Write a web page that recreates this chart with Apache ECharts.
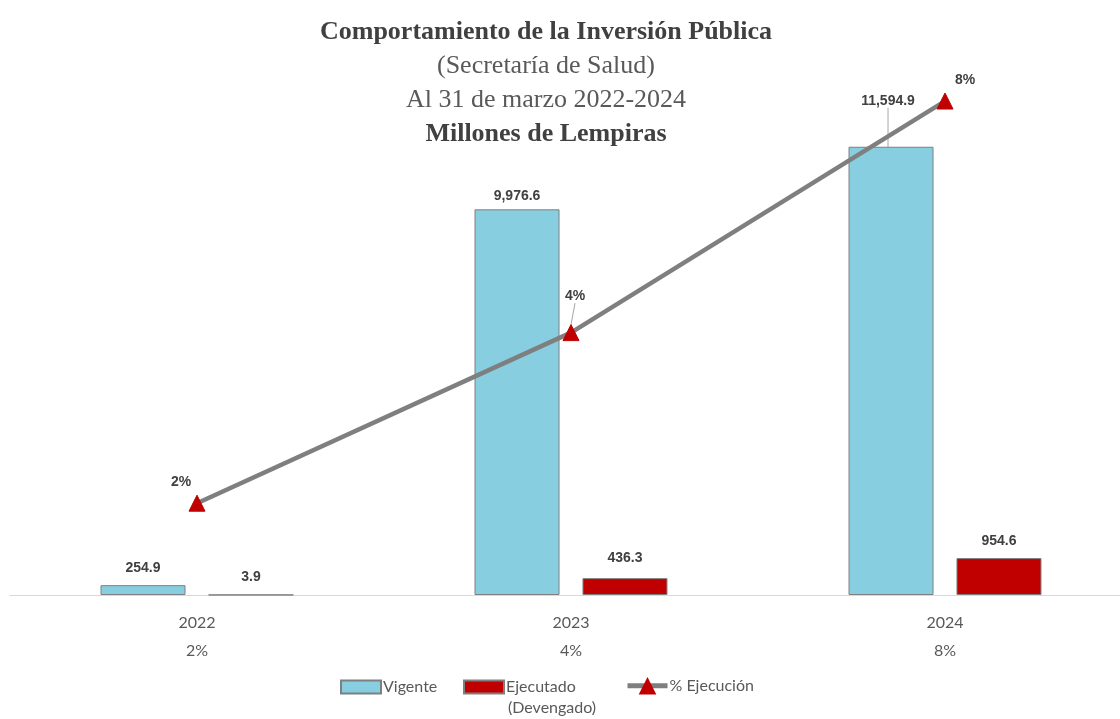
<!DOCTYPE html>
<html>
<head>
    <meta charset="utf-8"/>
    <title>Inversión Pública</title>
    <script src="https://cdn.jsdelivr.net/npm/echarts@6/dist/echarts.min.js"></script>
    <style>
        html, body { margin: 0; padding: 0; background: #fff; overflow: hidden; }
        /* el gráfico original sale recortado por la derecha */
        #chart { width: 1140px; height: 719px; }
    </style>
</head>
<body>
<div id="chart"></div>
<script>
    // datos
    var years = ['2022', '2023', '2024'];
    var vigente = [254.9, 9976.6, 11594.9];
    var ejecutado = [3.9, 436.3, 954.6];
    // % ejecución = ejecutado / vigente
    var pctEjec = [];
    for (var i = 0; i < years.length; i++) {
        pctEjec.push(ejecutado[i] / vigente[i] * 100);
    }

    var fmtNum = function (v) {
        return Number(v).toLocaleString('en-US', {minimumFractionDigits: 1, maximumFractionDigits: 1});
    };
    var fmtPct = function (v) {
        return Math.round(v) + '%';
    };

    var labelStyle = {
        show: true,
        position: 'top',
        distance: 10,
        fontFamily: 'Liberation Sans',
        fontWeight: 'bold',
        fontSize: 14,
        color: '#404040'
    };
    var guide = {show: true, lineStyle: {color: '#a6a6a6', width: 1}};

    // solo algunas etiquetas llevan línea guía
    var vigenteData = vigente.map(function (v, i) {
        return i === 2 ? {value: v, labelLine: guide} : v;
    });
    var pctData = pctEjec.map(function (v, i) {
        return i === 1 ? {value: v, labelLine: guide} : v;
    });

    var legendText = {fontFamily: 'Lato', fontSize: 16, color: '#595959', padding: [0, 0, 0, -3]};

    var myChart = echarts.init(document.getElementById('chart'));
    var option = {
        backgroundColor: '#fff',
        animation: false,
        title: {
            left: 541,
            textAlign: 'center',
            top: 10,
            text: '{b|Comportamiento de la Inversión Pública}\n{r|(Secretaría de Salud)}\n{r|Al 31 de marzo 2022-2024}\n{b|Millones de Lempiras}',
            textStyle: {
                fontWeight: 'normal',
                rich: {
                    b: {fontFamily: 'Liberation Serif', fontWeight: 'bold', fontSize: 26, color: '#404040', lineHeight: 34},
                    r: {fontFamily: 'Liberation Serif', fontWeight: 'normal', fontSize: 26, color: '#595959', lineHeight: 34}
                }
            }
        },
        grid: {left: 10, width: 1122, top: 60, bottom: 124, containLabel: false},
        xAxis: {
            type: 'category',
            data: years,
            axisTick: {show: false},
            axisLine: {lineStyle: {color: '#d9d9d9', width: 1}},
            axisLabel: {
                margin: 14,
                fontFamily: 'Lato',
                fontSize: 16,
                lineHeight: 28,
                color: '#595959',
                formatter: function (v, idx) {
                    return v + '\n' + fmtPct(pctEjec[idx]);
                }
            }
        },
        yAxis: [
            {type: 'value', min: 0, max: 13839, show: false, splitLine: {show: false}},
            {type: 'value', min: 0, max: 8.917, show: false, splitLine: {show: false}}
        ],
        legend: [
            {
                data: [{name: 'Vigente', icon: 'rect'}], left: 340, top: 679, padding: 0,
                itemWidth: 40, itemHeight: 13, textStyle: legendText
            },
            {
                data: [{name: 'Ejecutado', icon: 'rect'}], left: 463, top: 679, padding: 0,
                itemWidth: 40, itemHeight: 13, textStyle: legendText
            },
            {
                data: ['% Ejecución'], left: 625, top: 677, padding: 0,
                itemWidth: 40, itemHeight: 22, textStyle: legendText,
                lineStyle: {width: 5, color: '#7f7f7f'}
            }
        ],
        graphic: [{
            type: 'text',
            left: 508,
            top: 700,
            style: {text: '(Devengado)', font: '16px Lato', fill: '#595959'}
        }],
        series: [
            {
                name: 'Vigente',
                type: 'bar',
                data: vigenteData,
                barWidth: 85,
                barGap: '27%',
                itemStyle: {color: '#87cfe0', borderColor: '#7f7f7f', borderWidth: 1},
                label: Object.assign({}, labelStyle, {formatter: function (p) { return fmtNum(p.value); }}),
                labelLayout: function (p) {
                    if (p.dataIndex === 1) return {dy: 4};
                    if (p.dataIndex === 2) return {dx: -3, dy: -29};
                    return {};
                }
            },
            {
                name: 'Ejecutado',
                type: 'bar',
                data: ejecutado,
                barWidth: 85,
                itemStyle: {color: '#c00000', borderColor: '#7f7f7f', borderWidth: 1},
                label: Object.assign({}, labelStyle, {formatter: function (p) { return fmtNum(p.value); }}),
                labelLayout: function (p) {
                    if (p.dataIndex === 1) return {dy: -3};
                    return {};
                }
            },
            {
                name: '% Ejecución',
                type: 'line',
                yAxisIndex: 1,
                data: pctData,
                z: 5,
                clip: false,
                symbol: 'triangle',
                symbolSize: 16,
                lineStyle: {color: '#7f7f7f', width: 4.5},
                itemStyle: {color: '#c00000', borderColor: '#c00000'},
                label: Object.assign({}, labelStyle, {distance: 5, formatter: function (p) { return fmtPct(p.value); }}),
                labelLayout: function (p) {
                    if (p.dataIndex === 0) return {dx: -16, dy: -1};
                    if (p.dataIndex === 1) return {dx: 4, dy: -16};
                    return {dx: 20, dy: 0};
                }
            }
        ]
    };
    myChart.setOption(option);

    window.onresize = function () {
        myChart.resize();
    };
</script>
</body>
</html>
